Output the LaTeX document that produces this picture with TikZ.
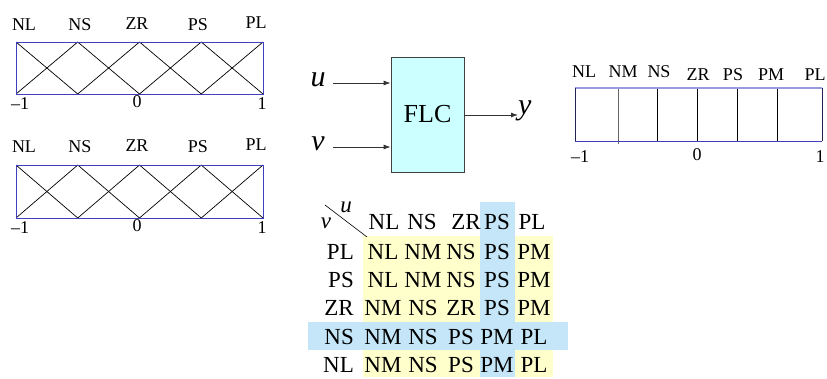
\documentclass[tikz,border=0pt]{standalone}
\usepackage{fontspec}
\setmainfont{Liberation Serif}
\usetikzlibrary{arrows.meta}
\definecolor{boxblue}{HTML}{3F3FBF}
\definecolor{topblue}{HTML}{9A9AE0}
\definecolor{navy}{HTML}{22224F}
\definecolor{flcfill}{HTML}{CCFFFF}
\definecolor{hlyellow}{HTML}{FFFFCC}
\definecolor{hlblue}{HTML}{C4E6F8}
\tikzset{
  x=1pt, y=-1pt,
  mflab/.style={font=\fontsize{18}{18}\selectfont, inner sep=0pt},
  axlab/.style={font=\fontsize{18}{18}\selectfont, inner sep=0pt},
  tab/.style={font=\fontsize{23}{23}\selectfont, inner sep=0pt},
  mfbox/.style={draw=boxblue, line width=0.8pt},
  mfline/.style={draw=black, line width=0.7pt},
  sig/.style={-{Latex[length=7pt,width=5pt]}, line width=0.8pt, draw=black!80},
  var/.style={font=\fontsize{30}{30}\selectfont\itshape, inner sep=0pt},
}
\begin{document}
\begin{tikzpicture}
\useasboundingbox (0,0) rectangle (827,378);
% ---------- left membership functions (two copies) ----------
\foreach \top/\bot/\lab/\ax in {42/94/25/104, 165/218/147/228}{
  \draw[mfline] (16,\top) -- (77.75,\bot) -- (139.5,\top) -- (201.25,\bot) -- (263,\top);
  \draw[mfline] (16,\bot) -- (77.75,\top) -- (139.5,\bot) -- (201.25,\top) -- (263,\bot);
  \draw[mfbox] (16,\top) rectangle (263,\bot);
  \node[mflab] at (24,\lab) {NL};
  \node[mflab] at (80,\lab) {NS};
  \node[mflab] at (137,\lab-1) {ZR};
  \node[mflab] at (198,\lab) {PS};
  \node[mflab] at (256,\lab-2) {PL};
  \node[axlab] at (20,\ax) {\textendash1};
  \node[axlab] at (137,\ax-2) {0};
  \node[axlab] at (262,\ax) {1};
}
% ---------- FLC block ----------
\node[draw=black!75, fill=flcfill, line width=0.8pt, minimum width=73pt, minimum height=115pt,
      inner sep=0pt, font=\fontsize{26}{26}\selectfont] (flc) at (427.5,114.5) {FLC};
\node[var] (u) at (318,80) {u};
\node[var] (v) at (318,144) {v};
\node[var, anchor=west] (y) at (518,111) {y};
\coordinate (uin) at (flc.west |- 0,83);
\coordinate (vin) at (flc.west |- 0,147);
\coordinate (yout) at (flc.east |- 0,115);
\coordinate (uout) at (333,83);
\coordinate (vout) at (333,147);
\draw[sig] (uout) -- (uin);
\draw[sig] (vout) -- (vin);
\draw[sig] (yout) -- (y.west |- yout);
% ---------- right output sets ----------
\foreach \x in {657,697,737,777}{
  \draw[line width=0.8pt] (\x,88) -- (\x,141);
}
\draw[draw=black!60, line width=0.9pt] (618,88) -- (618,144);
\draw[draw=topblue, line width=2pt] (575,88) -- (822,88);
\draw[draw=boxblue, line width=1pt] (575,141) -- (822,141);
\draw[draw=navy, line width=1pt] (575,88) -- (575,141);
\draw[draw=navy, line width=1pt] (822,88) -- (822,141);
\node[mflab] at (584,72) {NL};
\node[mflab] at (623,72) {NM};
\node[mflab] at (659,72) {NS};
\node[mflab] at (698,75) {ZR};
\node[mflab] at (733,75) {PS};
\node[mflab] at (771,75) {PM};
\node[mflab] at (815,75) {PL};
\node[axlab] at (580,157) {\textendash1};
\node[axlab] at (697,155) {0};
\node[axlab] at (820,157) {1};
% ---------- rule table ----------
\fill[hlyellow] (363,236) rectangle (553,377);
\fill[hlblue] (480,202) rectangle (515,377);
\fill[hlblue] (308,322) rectangle (568,350);
\draw[line width=0.6pt] (325,205) -- (367,237);
\node[font=\fontsize{23}{23}\selectfont\itshape, inner sep=0pt] at (346,207) {u};
\node[font=\fontsize{23}{23}\selectfont\itshape, inner sep=0pt] at (326,223) {v};
% header
\foreach \c/\x in {NL/384, NS/422, ZR/466, PS/497, PL/532}{
  \node[tab] at (\x,222) {\c};
}
% rows
\foreach \r/\y/\a/\b/\c/\d/\e in {
  PL/252/NL/NM/NS/PS/PM,
  PS/280/NL/NM/NS/PS/PM,
  ZR/308/NM/NS/ZR/PS/PM,
  NS/337/NM/NS/PS/PM/PL,
  NL/365/NM/NS/PS/PM/PL}{
  \node[tab, anchor=east] at (354,\y) {\r};
  \node[tab] at (383,\y) {\a};
  \node[tab] at (423,\y) {\b};
  \node[tab] at (461,\y) {\c};
  \node[tab] at (497,\y) {\d};
  \node[tab] at (534,\y) {\e};
}
\end{tikzpicture}
\end{document}
